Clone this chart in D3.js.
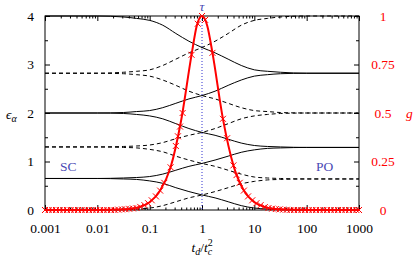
<!DOCTYPE html>
<html lang="en">
<head>
<meta charset="utf-8" />
<title>levels</title>
<script src="https://d3js.org/d3.v7.min.js"></script>
<style>
    body { margin: 0; background: #fff; }
</style>
</head>
<body>
<svg width="416" height="260"></svg>
<script>
    // sample points, log10(t_d/t_c^2)
    var logX = [-3, -2, -1.5, -1.25, -1, -0.75, -0.5, -0.25, 0, 0.25, 0.5, 0.75, 1, 1.25, 1.5, 2, 3];

    // energy levels eps_alpha, solid ones
    var solidA = [4, 4.00, 3.98, 3.95, 3.91, 3.81, 3.64, 3.48, 3.35, 3.24, 3.11, 2.98, 2.89, 2.86, 2.84, 2.82, 2.82];
    var solidD = [2.00, 2.00, 2.01, 2.03, 2.05, 2.11, 2.20, 2.29, 2.36, 2.45, 2.57, 2.68, 2.76, 2.79, 2.81, 2.82, 2.82];
    var solidE = [2.00, 2.00, 1.99, 1.97, 1.94, 1.88, 1.78, 1.68, 1.60, 1.54, 1.46, 1.38, 1.33, 1.31, 1.30, 1.29, 1.29];
    var solidH = [0.65, 0.65, 0.66, 0.67, 0.69, 0.74, 0.82, 0.90, 0.96, 1.03, 1.11, 1.19, 1.24, 1.27, 1.28, 1.29, 1.29];
    var solidI = [0.65, 0.65, 0.64, 0.63, 0.60, 0.55, 0.46, 0.38, 0.31, 0.25, 0.17, 0.09, 0.04, 0.02, 0.01, 0.00, 0];
    // dashed ones
    var dashB = [2.82, 2.82, 2.84, 2.86, 2.89, 2.98, 3.11, 3.24, 3.35, 3.48, 3.64, 3.81, 3.91, 3.95, 3.98, 4.00, 4.00];
    var dashC = [2.82, 2.82, 2.81, 2.79, 2.76, 2.68, 2.57, 2.45, 2.36, 2.29, 2.20, 2.11, 2.05, 2.03, 2.01, 2.00, 2.00];
    var dashF = [1.30, 1.30, 1.31, 1.32, 1.34, 1.39, 1.47, 1.54, 1.60, 1.68, 1.78, 1.88, 1.94, 1.97, 1.99, 2.00, 2.00];
    var dashG = [1.30, 1.30, 1.29, 1.28, 1.25, 1.20, 1.11, 1.03, 0.96, 0.90, 0.82, 0.74, 0.68, 0.66, 0.65, 0.64, 0.64];
    var dashJ = [0, 0.00, 0.01, 0.02, 0.04, 0.09, 0.17, 0.25, 0.31, 0.38, 0.46, 0.54, 0.59, 0.62, 0.63, 0.64, 0.64];

    // red curve g (right axis)
    var gLogX = [-3, -2, -1.6, -1.4, -1.2, -1.0, -0.8, -0.6, -0.4, -0.2, -0.1, 0, 0.1, 0.2, 0.4, 0.6, 0.8, 1.0, 1.2, 1.4, 1.6, 2, 3];
    var gVals = [0, 0, 0.002, 0.005, 0.015, 0.04, 0.10, 0.22, 0.46, 0.80, 0.95, 1.0, 0.95, 0.81, 0.47, 0.23, 0.10, 0.04, 0.015, 0.005, 0.002, 0, 0];

    // red x markers
    var markLogX = [-3.00, -2.93, -2.86, -2.79, -2.72, -2.65, -2.58, -2.51, -2.44, -2.37, -2.30, -2.23, -2.16, -2.09, -2.02,
        -1.95, -1.88, -1.81, -1.74, -1.67, -1.60, -1.53, -1.46, -1.39, -1.32, -1.25, -1.18, -1.10, -1.03, -0.96, -0.88,
        -0.80, -0.72, -0.60, -0.50, -0.46, -0.42, -0.37, -0.20, -0.08, 0, 0.06, 0.20, 0.40, 0.48, 0.60, 0.66, 0.72, 0.80,
        0.88, 0.96, 1.04, 1.12, 1.20, 1.27, 1.34, 1.41, 1.48, 1.55, 1.62, 1.69, 1.76, 1.83, 1.90, 1.97, 2.04, 2.11, 2.18,
        2.25, 2.32, 2.39, 2.46, 2.53, 2.60, 2.67, 2.74, 2.81, 2.88, 2.95, 3.00];
    var markG = [0, 0, 0, 0, 0, 0, 0, 0, 0, 0, 0, 0, 0, 0, 0,
        0, 0, 0, 0, 0, 0.002, 0.003, 0.004, 0.006, 0.008, 0.01, 0.016, 0.025, 0.035, 0.05, 0.07,
        0.10, 0.14, 0.22, 0.33, 0.38, 0.43, 0.50, 0.80, 0.96, 1.0, 0.98, 0.81, 0.47, 0.37, 0.23, 0.18, 0.14, 0.10,
        0.07, 0.05, 0.035, 0.025, 0.015, 0.01, 0.007, 0.005, 0.003, 0.002, 0.001, 0, 0, 0, 0, 0, 0, 0, 0,
        0, 0, 0, 0, 0, 0, 0, 0, 0, 0, 0, 0];

    var xTicks = [0.001, 0.01, 0.1, 1, 10, 100, 1000];
    var xTickLabels = ["0.001", "0.01", "0.1", "1", "10", "100", "1000"];
    var yTicks = [0, 1, 2, 3, 4];
    var gTicks = [0, 0.25, 0.5, 0.75, 1];
    var gTickLabels = ["0", "0.25", "0.5", "0.75", "1"];

    var svg = d3.select("svg"),
        pl = 45, pr = 359, pt = 16, pb = 210,
        serif = "'Liberation Serif', 'DejaVu Serif', serif";

    var x = d3.scaleLog().domain([0.001, 1000]).range([pl, pr]),
        y = d3.scaleLinear().domain([0, 4]).range([pb, pt]),
        yg = d3.scaleLinear().domain([0, 1]).range([pb, pt]);

    var red = "#ff0000", blue = "#4a4ab4";

    // ticks (all inward)
    var minorX = [];
    for (var e = -3; e < 3; e++)
        for (var k = 2; k < 10; k++) minorX.push(k * Math.pow(10, e));

    svg.append("g").attr("transform", "translate(0," + pb + ")")
        .call(d3.axisBottom(x).tickValues(minorX).tickSize(-2.5).tickFormat(""));
    svg.append("g").attr("transform", "translate(0," + pb + ")")
        .call(d3.axisBottom(x).tickValues(xTicks).tickSize(-5).tickPadding(13)
            .tickFormat(function (d, i) { return xTickLabels[i]; }));
    svg.append("g").attr("transform", "translate(0," + pt + ")")
        .call(d3.axisTop(x).tickValues(minorX).tickSize(-2.5).tickFormat(""));
    svg.append("g").attr("transform", "translate(0," + pt + ")")
        .call(d3.axisTop(x).tickValues(xTicks).tickSize(-5).tickFormat(""));

    svg.append("g").attr("transform", "translate(" + pl + ",0)")
        .call(d3.axisLeft(y).tickValues([0.5, 1.5, 2.5, 3.5]).tickSize(-3).tickFormat(""));
    svg.append("g").attr("transform", "translate(" + pl + ",0)")
        .call(d3.axisLeft(y).tickValues(yTicks).tickSize(-5).tickPadding(11).tickFormat(d3.format("d")));

    svg.append("g").attr("transform", "translate(" + pr + ",0)")
        .call(d3.axisRight(yg).tickValues([0.125, 0.375, 0.625, 0.875]).tickSize(-3).tickFormat(""));
    var ga = svg.append("g").attr("transform", "translate(" + pr + ",0)")
        .call(d3.axisRight(yg).tickValues(gTicks).tickSize(-5).tickFormat(function (d, i) { return gTickLabels[i]; }));
    ga.selectAll("text").attr("x", 24).attr("text-anchor", "middle").attr("fill", red);

    svg.selectAll(".domain").remove();
    svg.selectAll(".tick line").attr("stroke", "#000");
    svg.selectAll(".tick text").attr("font-family", serif).attr("font-size", 13.5);

    svg.append("rect").attr("x", pl).attr("y", pt)
        .attr("width", pr - pl).attr("height", pb - pt)
        .attr("fill", "none").attr("stroke", "#000").attr("stroke-width", 1);

    // vertical dotted line at tau
    svg.append("line").attr("x1", x(1)).attr("x2", x(1)).attr("y1", pt).attr("y2", pb)
        .attr("stroke", "#3030d0").attr("stroke-width", 1).attr("stroke-dasharray", "1,2");

    // level lines
    var line = d3.line()
        .x(function (d, i) { return x(Math.pow(10, logX[i])); })
        .y(function (d) { return y(d); })
        .curve(d3.curveMonotoneX);

    [solidA, solidD, solidE, solidH, solidI].forEach(function (s) {
        svg.append("path").attr("d", line(s)).attr("fill", "none")
            .attr("stroke", "#000").attr("stroke-width", 1);
    });
    [dashB, dashC, dashF, dashG, dashJ].forEach(function (s) {
        svg.append("path").attr("d", line(s)).attr("fill", "none")
            .attr("stroke", "#000").attr("stroke-width", 1).attr("stroke-dasharray", "4,3");
    });

    // red curve
    var gLine = d3.line()
        .x(function (d, i) { return x(Math.pow(10, gLogX[i])); })
        .y(function (d) { return yg(d); })
        .curve(d3.curveMonotoneX);
    svg.append("path").attr("d", gLine(gVals)).attr("fill", "none")
        .attr("stroke", red).attr("stroke-width", 2);

    svg.append("g").selectAll("path").data(markG).enter().append("path")
        .attr("transform", function (d, i) {
            return "translate(" + x(Math.pow(10, markLogX[i])) + "," + yg(d) + ")";
        })
        .attr("d", "M-3,-3L3,3M-3,3L3,-3")
        .attr("stroke", red).attr("stroke-width", 1).attr("fill", "none");

    // labels
    function label(tx, ty) {
        return svg.append("text").attr("x", tx).attr("y", ty)
            .attr("font-family", serif).attr("font-size", 13.5);
    }
    label(x(1), 11).attr("text-anchor", "middle").attr("fill", blue)
        .attr("font-style", "italic").text("τ");
    label(60, 171).attr("fill", blue).text("SC");
    label(316, 171).attr("fill", blue).text("PO");

    var eps = label(6, 119);
    eps.append("tspan").attr("font-style", "italic").text("ϵ");
    eps.append("tspan").attr("dy", 3).attr("font-size", 10).attr("font-style", "italic").text("α");

    label(406, 118).attr("fill", red).attr("font-style", "italic").text("g");

    var xl = label(x(1), 252).attr("text-anchor", "middle");
    xl.append("tspan").attr("font-style", "italic").text("t");
    xl.append("tspan").attr("dy", 3).attr("font-size", 10).attr("font-style", "italic").text("d");
    xl.append("tspan").attr("dy", -3).text("/");
    xl.append("tspan").attr("font-style", "italic").text("t");
    xl.append("tspan").attr("dy", 3).attr("font-size", 10).attr("font-style", "italic").text("c");
    xl.append("tspan").attr("dx", -4.5).attr("dy", -9).attr("font-size", 10).text("2");
</script>
</body>
</html>
